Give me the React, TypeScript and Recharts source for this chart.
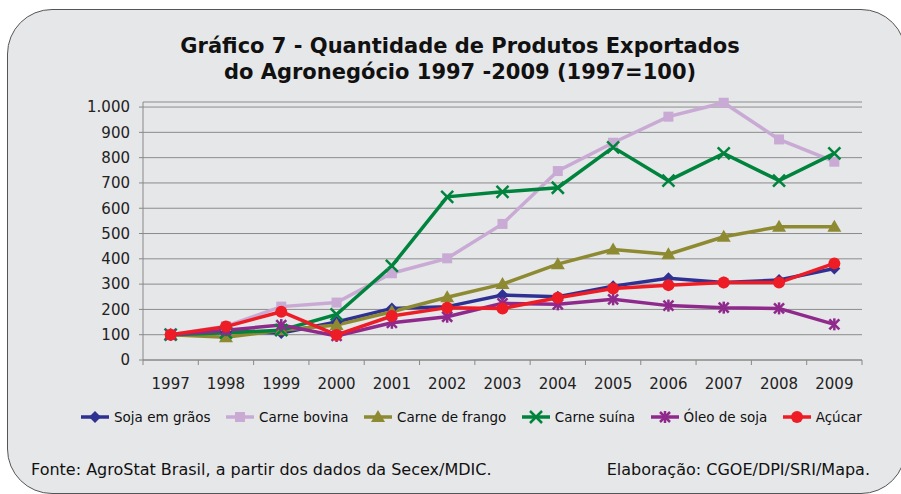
import { LineChart, Line, XAxis, YAxis, CartesianGrid } from "recharts";

const years = ["1997", "1998", "1999", "2000", "2001", "2002", "2003", "2004", "2005", "2006", "2007", "2008", "2009"];

const sojaGraos = [100, 112, 107, 150, 204, 211, 257, 250, 292, 323, 306, 316, 362];
const carneBovina = [100, 134, 211, 227, 343, 402, 538, 747, 859, 962, 1017, 872, 784];
const carneFrango = [100, 90, 118, 138, 191, 248, 300, 379, 437, 418, 487, 527, 527];
const carneSuina = [100, 108, 118, 180, 372, 645, 665, 681, 841, 709, 817, 709, 817];
const oleoSoja = [100, 118, 138, 95, 147, 171, 224, 220, 240, 215, 207, 204, 141];
const acucar = [100, 132, 191, 99, 174, 207, 204, 246, 283, 296, 306, 306, 382];

const yTicks = [0, 100, 200, 300, 400, 500, 600, 700, 800, 900, 1000];

const data = years.map((year, i) => ({
  year,
  soja: sojaGraos[i],
  bovina: carneBovina[i],
  frango: carneFrango[i],
  suina: carneSuina[i],
  oleo: oleoSoja[i],
  acucar: acucar[i],
}));

type Marker = "diamond" | "square" | "triangle" | "x" | "star" | "circle";

const series: { key: string; name: string; color: string; marker: Marker }[] = [
  { key: "soja", name: "Soja em grãos", color: "#2e3192", marker: "diamond" },
  { key: "bovina", name: "Carne bovina", color: "#c9aad4", marker: "square" },
  { key: "frango", name: "Carne de frango", color: "#8e8a32", marker: "triangle" },
  { key: "suina", name: "Carne suína", color: "#00843d", marker: "x" },
  { key: "oleo", name: "Óleo de soja", color: "#8f2a8c", marker: "star" },
  { key: "acucar", name: "Açúcar", color: "#ee1c25", marker: "circle" },
];

const W = 901;
const H = 494;
const M = { top: 102, right: 39, bottom: 104, left: 83 };
const Y_W = 60;
const PLOT_W = W - M.left - M.right - Y_W;
const HALF_BAND = PLOT_W / years.length / 2;
const FONT = "'DejaVu Sans', Verdana, sans-serif";

function MarkerShape({ cx, cy, type, color }: { cx: number; cy: number; type: Marker; color: string }) {
  if (cx == null || cy == null) return null;
  switch (type) {
    case "diamond":
      return <polygon points={`${cx},${cy - 6} ${cx + 6},${cy} ${cx},${cy + 6} ${cx - 6},${cy}`} fill={color} />;
    case "square":
      return <rect x={cx - 5} y={cy - 5} width={10} height={10} fill={color} />;
    case "triangle":
      return <polygon points={`${cx},${cy - 7} ${cx + 7},${cy + 5} ${cx - 7},${cy + 5}`} fill={color} />;
    case "x":
      return (
        <g stroke={color} strokeWidth={2.5}>
          <line x1={cx - 6} y1={cy - 6} x2={cx + 6} y2={cy + 6} />
          <line x1={cx - 6} y1={cy + 6} x2={cx + 6} y2={cy - 6} />
        </g>
      );
    case "star":
      return (
        <g stroke={color} strokeWidth={2.5}>
          <line x1={cx - 5} y1={cy - 5} x2={cx + 5} y2={cy + 5} />
          <line x1={cx - 5} y1={cy + 5} x2={cx + 5} y2={cy - 5} />
          <line x1={cx} y1={cy - 6} x2={cx} y2={cy + 6} />
        </g>
      );
    default:
      return <circle cx={cx} cy={cy} r={6} fill={color} />;
  }
}

const XTick = (props: any) => {
  const { x, y, payload, index } = props;
  const last = index === years.length - 1;
  return (
    <g>
      <line x1={x - HALF_BAND} y1={y - 8} x2={x - HALF_BAND} y2={y - 3} stroke="#888" />
      {last && <line x1={x + HALF_BAND} y1={y - 8} x2={x + HALF_BAND} y2={y - 3} stroke="#888" />}
      <text x={x} y={y + 21} textAnchor="middle" fontSize={15} fill="#222" fontFamily={FONT}>
        {payload.value}
      </text>
    </g>
  );
};

const fmtY = (v: number) => (v >= 1000 ? v.toLocaleString("de-DE") : String(v));

export default function App() {
  return (
    <div style={{ position: "absolute", left: 0, top: 0, width: W, height: H, overflow: "hidden", background: "#fff" }}>
      <div
        style={{
          position: "absolute",
          left: 7,
          top: 9,
          width: 897,
          height: 483,
          border: "1px solid #555",
          borderRadius: 45,
          background: "#e6e7e9",
        }}
      />
      <div
        style={{
          position: "absolute",
          left: 0,
          top: 33,
          width: 920,
          textAlign: "center",
          fontFamily: FONT,
          fontWeight: "bold",
          fontSize: 21,
          lineHeight: "26px",
          color: "#111",
        }}
      >
        Gráfico 7 - Quantidade de Produtos Exportados
        <br />
        do Agronegócio 1997 -2009 (1997=100)
      </div>
      <div style={{ position: "absolute", left: 0, top: 0 }}>
        <LineChart width={W} height={H} data={data} margin={M}>
          <CartesianGrid vertical={false} stroke="#8c8c8c" />
          <XAxis
            dataKey="year"
            scale="band"
            stroke="#888"
            tickLine={false}
            tick={<XTick />}
            interval={0}
            height={30}
          />
          <YAxis
            width={Y_W}
            domain={[0, 1020]}
            ticks={yTicks}
            stroke="#888"
            tickSize={4}
            tickMargin={9}
            tickFormatter={fmtY}
            tick={{ fontSize: 15, fill: "#222", fontFamily: FONT }}
          />
          {series.map((s) => (
            <Line
              key={s.key}
              dataKey={s.key}
              name={s.name}
              stroke={s.color}
              strokeWidth={3.5}
              isAnimationActive={false}
              dot={(p: any) => <MarkerShape key={`${s.key}-${p.index}`} cx={p.cx} cy={p.cy} type={s.marker} color={s.color} />}
              activeDot={false}
            />
          ))}
        </LineChart>
      </div>
      <div
        style={{
          position: "absolute",
          left: 80,
          top: 409,
          width: 782,
          display: "flex",
          justifyContent: "space-between",
          fontFamily: FONT,
          fontSize: 13.5,
          color: "#111",
        }}
      >
        {series.map((s) => (
          <div key={s.key} style={{ display: "flex", alignItems: "center" }}>
            <svg width={30} height={16} style={{ marginRight: 4 }}>
              <line x1={1} y1={8} x2={29} y2={8} stroke={s.color} strokeWidth={3.5} />
              <MarkerShape cx={15} cy={8} type={s.marker} color={s.color} />
            </svg>
            <span>{s.name}</span>
          </div>
        ))}
      </div>
      <div style={{ position: "absolute", left: 31, top: 460, fontFamily: FONT, fontSize: 16, color: "#111" }}>
        Fonte: AgroStat Brasil, a partir dos dados da Secex/MDIC.
      </div>
      <div
        style={{
          position: "absolute",
          right: 31,
          top: 460,
          fontFamily: FONT,
          fontSize: 16,
          color: "#111",
          textAlign: "right",
        }}
      >
        Elaboração: CGOE/DPI/SRI/Mapa.
      </div>
    </div>
  );
}
